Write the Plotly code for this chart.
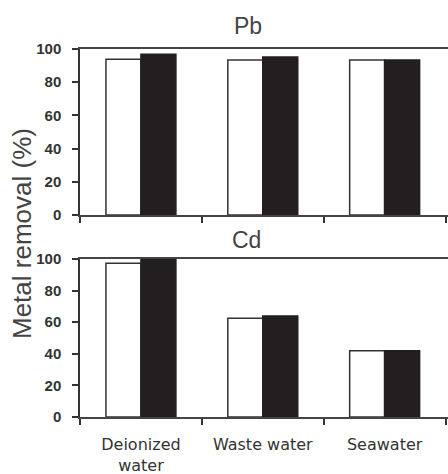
import plotly.graph_objects as go
from plotly.subplots import make_subplots

categories = ["Deionized<br>water", "Waste water", "Seawater"]
pb_white = [93.8, 93.4, 93.4]
pb_black = [96.8, 95.2, 93.4]
cd_white = [97.3, 62.5, 42.0]
cd_black = [100.0, 63.9, 42.0]
y_ticks = [0, 20, 40, 60, 80, 100]

W, H = 448, 474
L = 80
PW = W - L
fig = make_subplots(rows=2, cols=1, shared_xaxes=False)

def add_pair(white, black, row):
    fig.add_trace(go.Bar(x=categories, y=white, marker=dict(color="white", line=dict(color="#333333", width=1.5)),
                         showlegend=False), row=row, col=1)
    fig.add_trace(go.Bar(x=categories, y=black, marker=dict(color="#231f20", line=dict(color="#231f20", width=1.5)),
                         showlegend=False), row=row, col=1)

add_pair(pb_white, pb_black, 1)
add_pair(cd_white, cd_black, 2)

ydom_top = [1 - 215 / H, 1 - 49 / H]
ydom_bot = [1 - 417 / H, 1 - 259 / H]

xaxis_common = dict(type="category", range=[-0.5, 2.52], tickson="boundaries", ticks="outside", ticklen=6,
                    tickwidth=1.5, tickcolor="#333333", showline=True, linecolor="#444444", linewidth=1.5,
                    mirror=True, showgrid=False, zeroline=False, domain=[0, 1], automargin=False)
yaxis_common = dict(range=[0, 100], tickvals=y_ticks, ticks="outside", ticklen=6, tickwidth=1.5,
                    tickcolor="#333333", showline=True, linecolor="#333333", linewidth=1.5, showgrid=False,
                    zeroline=False, automargin=False,
                    tickfont=dict(family="Liberation Sans, Arial", size=15, color="#333333", weight=700),
                    ticklabelstandoff=8)

fig.update_layout(
    width=W, height=H,
    margin=dict(l=L, r=0, t=0, b=0, autoexpand=False),
    plot_bgcolor="white", paper_bgcolor="white",
    barmode="group", bargap=0.426, bargroupgap=0,
    xaxis=dict(**xaxis_common, showticklabels=False),
    xaxis2=dict(**xaxis_common, showticklabels=True,
                tickfont=dict(family="DejaVu Sans", size=16, color="#333333"), ticklabelstandoff=12),
    yaxis=dict(**yaxis_common, domain=ydom_top),
    yaxis2=dict(**yaxis_common, domain=ydom_bot),
)

fig.add_annotation(text="Pb", x=(248 - L) / PW, y=1 - 26 / H, xref="paper", yref="paper",
                   xanchor="center", yanchor="middle",
                   showarrow=False, font=dict(family="Liberation Sans, Arial", size=23, color="#444444"))
fig.add_annotation(text="Cd", x=(246 - L) / PW, y=1 - 240 / H, xref="paper", yref="paper",
                   xanchor="center", yanchor="middle",
                   showarrow=False, font=dict(family="Liberation Sans, Arial", size=23, color="#444444"))
fig.add_annotation(text="Metal removal (%)", x=(22 - L) / PW, y=1 - 234 / H, xref="paper", yref="paper",
                   xanchor="center", yanchor="middle",
                   showarrow=False, textangle=-90,
                   font=dict(family="Liberation Sans, Arial", size=26, color="#444444"))

fig.write_html("out.html", config={"displayModeBar": False},
               post_script="document.body.style.margin='0';")
